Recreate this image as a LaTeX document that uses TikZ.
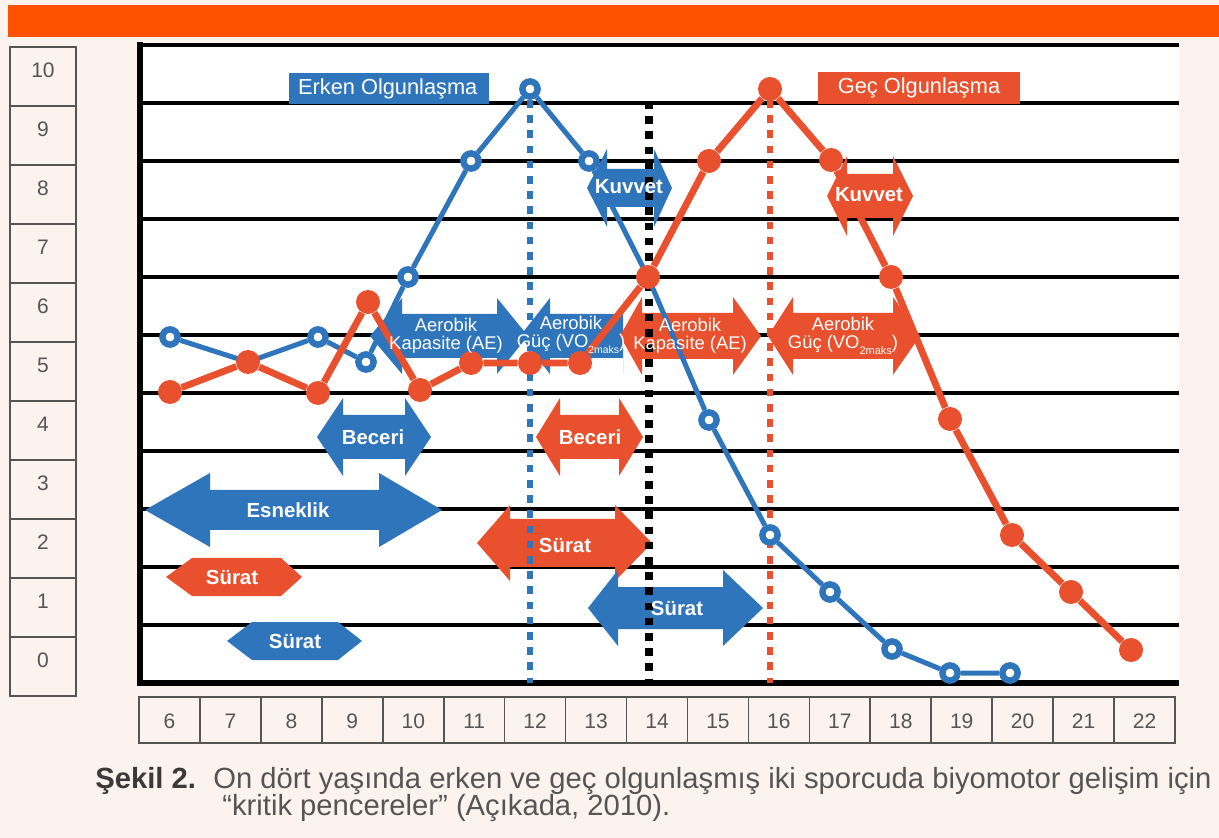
\documentclass[tikz,border=0pt]{standalone}
\usepackage{fontspec}
\setmainfont{Liberation Sans}
\definecolor{mavi}{HTML}{2F75BB}
\definecolor{kirmizi}{HTML}{E9502D}
\definecolor{turuncu}{HTML}{FF5200}
\definecolor{krem}{HTML}{FCF3EF}
\definecolor{gri}{HTML}{555555}
\definecolor{koyugri}{HTML}{3A3A3A}
% cift yonlu ok: renk, sol uc, sol taban, sag taban, sag uc, y, bas yarim, govde yarim
\newcommand{\ciftok}[8]{%
  \fill[#1] (#2,#6) -- (#3,#6-#7) -- (#3,#6-#8) -- (#4,#6-#8) -- (#4,#6-#7)
    -- (#5,#6) -- (#4,#6+#7) -- (#4,#6+#8) -- (#3,#6+#8) -- (#3,#6+#7) -- cycle;}

\begin{document}
\begin{tikzpicture}[x=0.5pt, y=-0.5pt,
	izgara/.style={line width=2.3pt},
	kutu/.style={draw=gri, line width=0.8pt, fill=krem},
	sayi/.style={text=gri, font=\fontsize{10.5}{12}\selectfont},
	oketiket/.style={text=white, font=\bfseries\fontsize{10.2}{12}\selectfont},
	aeroetiket/.style={text=white, align=center, inner sep=0pt, font=\fontsize{9.2}{9}\selectfont},
	baslik/.style={text=white, font=\fontsize{10.9}{13}\selectfont},
	mnokta/.style={circle, draw=mavi, line width=3.2pt, fill=white, minimum size=7.6pt, inner sep=0pt},
	knokta/.style={circle, fill=kirmizi, minimum size=12pt, inner sep=0pt},
	mcizgi/.style={draw=mavi, line width=2.5pt},
	kcizgi/.style={draw=kirmizi, line width=3.4pt},
	kesik/.style={line width=3.3pt, dash pattern=on 3.8pt off 3.8pt},
	yazi/.style={anchor=base west, inner sep=0pt, text=gri, font=\fontsize{14.6}{17}\selectfont}]
	\useasboundingbox (0,0) rectangle (1219,838);
	\fill[krem] (0,0) rectangle (1219,838);
	%Bant
	\fill[turuncu] (8,5) rectangle (1219,37);
	%Grafik alani
	\fill[white] (140,42) rectangle (1179,683);
	\foreach \k in {0,...,10}
		\draw[izgara] (140,45+58*\k) -- (1179,45+58*\k);
	\draw[line width=3pt] (140,683) -- (1179,683);
	\draw[line width=2.6pt] (140,42) -- (140,686);
	%Dikey eksen kutulari
	\foreach \v in {0,...,10} {
		\draw[kutu] (10,637-59*\v) rectangle (76,696-59*\v);
		\node[sayi] (y\v) at (43,660-59*\v) {\v};
	}
	%Yas kutulari
	\foreach \a in {6,...,22} {
		\draw[kutu] (139+60.94*\a-365.64,697) rectangle ++(60.94,46);
		\node[sayi] (x\a) at (169.5+60.94*\a-365.64,721) {\a};
	}
	%Oklar
	\ciftok{mavi}{145}{210}{379}{442}{510}{37}{20}
	\ciftok{mavi}{317}{343}{405}{431}{437}{39}{22}
	\ciftok{kirmizi}{536}{560}{619}{643}{437}{39}{22}
	\ciftok{kirmizi}{477}{510}{615}{652}{543}{38}{24}
	\ciftok{kirmizi}{166}{192}{281}{302}{577}{19}{19}
	\ciftok{mavi}{227}{252}{338}{362}{641}{19}{19}
	\ciftok{mavi}{588}{618}{723}{763}{608}{38}{21}
	\ciftok{mavi}{587}{607}{654}{672}{188}{39}{19}
	\ciftok{kirmizi}{827}{847}{893}{913}{196}{40}{22}
	\ciftok{mavi}{370}{402}{497}{528}{336}{38}{22}
	\ciftok{mavi}{520}{550}{623}{623}{336}{38}{22}
	\ciftok{kirmizi}{620}{642}{733}{761}{336}{39}{23}
	\ciftok{kirmizi}{768}{793}{893}{920}{336}{39}{23}
	%Kesikli cizgiler
	\draw[kesik, mavi] (530,100) -- (530,683);
	\draw[kesik, black, line width=3.8pt] (649,101) -- (649,683);
	\draw[kesik, kirmizi] (770,100) -- (770,683);
	%Basliklar
	\fill[mavi] (289,73) rectangle (489,104);
	\node[baslik, anchor=west] (erken) at (291,88.5) {Erken Olgunlaşma};
	\fill[kirmizi] (818,72) rectangle (1020,104);
	\node[baslik] (gec) at (919,88) {Geç Olgunlaşma};
	%Erken olgunlasma
	\foreach \a/\px/\py in {6/170/337, 7/248/362, 8/318/337, 9/366/362, 10/408/277,
		11/471/161, 12/530/89, 13/589/161, 14/648/277, 15/709/420, 16/770/535,
		17/830/592, 18/892/649, 19/950/673, 20/1010/673}
		\node[mnokta] (b\a) at (\px,\py) {};
	\draw[mcizgi] (b6) -- (b7) -- (b8) -- (b9) -- (b10) -- (b11) -- (b12) -- (b13)
		-- (b14) -- (b15) -- (b16) -- (b17) -- (b18) -- (b19) -- (b20);
	%Gec olgunlasma
	\foreach \a/\px/\py in {6/170/392, 7/248/362, 8/318/393, 9/368/302, 10/420/390,
		11/471/363, 12/530/363, 13/580/363, 14/648/277, 15/709/161, 16/770/89,
		17/831/160, 18/891/277, 19/950/419, 20/1012/535, 21/1071/592, 22/1131/650}
		\node[knokta] (r\a) at (\px,\py) {};
	\draw[kcizgi] (r6) -- (r7) -- (r8) -- (r9) -- (r10) -- (r11) -- (r12) -- (r13)
		-- (r14) -- (r15) -- (r16) -- (r17) -- (r18) -- (r19) -- (r20) -- (r21) -- (r22);
	%Ok yazilari
	\node[oketiket] (esneklik) at (288,510) {Esneklik};
	\node[oketiket] (beceriM) at (373,437) {Beceri};
	\node[oketiket] (beceriK) at (590,437) {Beceri};
	\node[oketiket] (suratK) at (565,545) {Sürat};
	\node[oketiket] (suratK2) at (232,577) {Sürat};
	\node[oketiket] (suratM2) at (295,641) {Sürat};
	\node[oketiket] (suratM) at (677,608) {Sürat};
	\node[oketiket] (kuvvetM) at (629,187) {Kuvvet};
	\node[oketiket] (kuvvetK) at (869,195) {Kuvvet};
	\node[aeroetiket] (aeM) at (446,336) {Aerobik\\Kapasite (AE)};
	\node[aeroetiket] (gucM) at (571,335) {Aerobik\\Güç (VO\raisebox{-0.35em}{\fontsize{5.2}{6}\selectfont 2maks})};
	\node[aeroetiket] (aeK) at (690,336) {Aerobik\\Kapasite (AE)};
	\node[aeroetiket] (gucK) at (843,336) {Aerobik\\Güç (VO\raisebox{-0.35em}{\fontsize{5.5}{6}\selectfont 2maks})};
	%Sekil yazisi
	\node[yazi, text=koyugri, font=\bfseries\fontsize{14.6}{17}\selectfont] (sekil) at (95,788) {Şekil 2.};
	\node[yazi] (satir1) at (213,788) {On dört yaşında erken ve geç olgunlaşmış iki sporcuda biyomotor gelişim için};
	\node[yazi] (satir2) at (222,815) {“kritik pencereler” (Açıkada, 2010).};
\end{tikzpicture}
\end{document}
